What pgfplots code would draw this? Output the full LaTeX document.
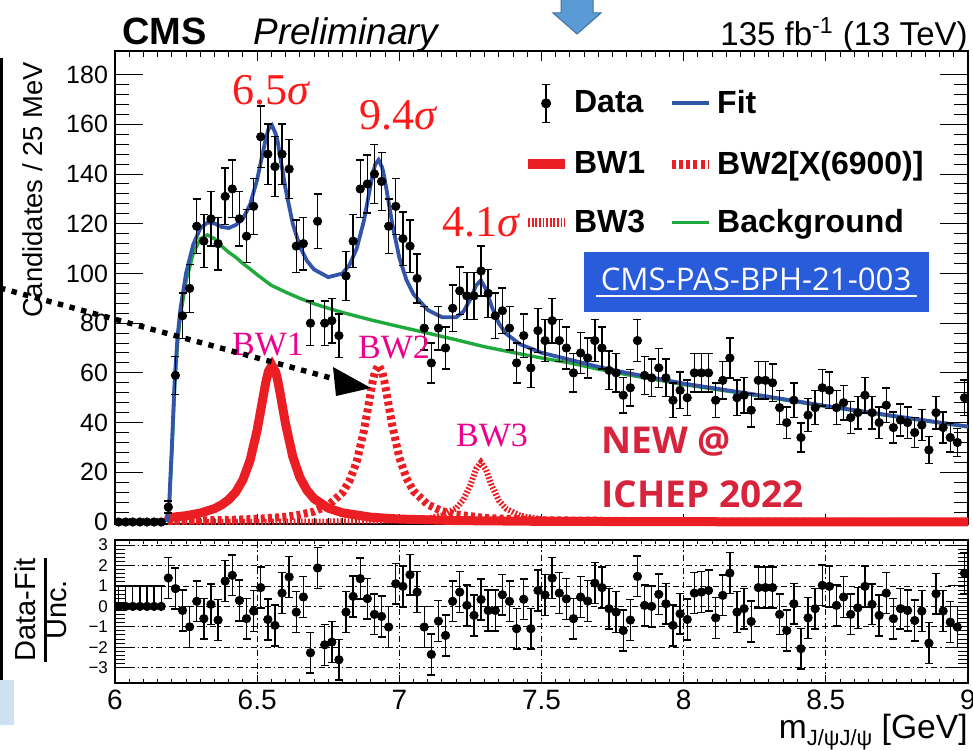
\documentclass[border=0pt]{standalone}
\usepackage{pgfplots}
\pgfplotsset{compat=1.18}
\usepackage{pgfplotstable}
\usepackage{fontspec}
\setmainfont{Liberation Sans}
\newfontfamily\tnr{Liberation Serif}
\newfontfamily\osans{Open Sans}
\definecolor{fitblue}{RGB}{50,85,170}
\definecolor{bggreen}{RGB}{30,170,60}
\definecolor{bwred}{RGB}{235,30,35}
\definecolor{sigred}{RGB}{255,25,25}
\definecolor{boxblue}{RGB}{40,92,218}
\definecolor{newred}{RGB}{215,35,60}
\definecolor{arrowblue}{RGB}{91,155,213}
\definecolor{arrowedge}{RGB}{65,113,156}

\pgfplotsset{
  lineleg/.style={legend image code/.code={\draw[##1] (0pt,0pt)--(18.5pt,0pt);}},
  dataleg/.style={legend image code/.code={
      \draw[black,line width=0.8pt] (9pt,-9.5pt)--(9pt,9.5pt);
      \draw[black,line width=0.8pt] (7pt,-9.5pt)--(11pt,-9.5pt) (7pt,9.5pt)--(11pt,9.5pt);
      \fill[black] (9pt,0pt) circle (2.3pt);}},
}

% data: bin centre, candidates, uncertainty
\pgfplotstableread{
x y e
6.0125 0 0
6.0375 0 0
6.0625 0 0
6.0875 0 0
6.1125 0 0
6.1375 0 0
6.1625 0 0
6.1875 6 2.4
6.2125 59 7.7
6.2375 83 9.1
6.2625 94 9.7
6.2875 119 10.9
6.3125 113 10.6
6.3375 122 11.0
6.3625 112 10.6
6.3875 131 11.4
6.4125 134 11.6
6.4375 122 11.0
6.4625 115 10.7
6.4875 127 11.3
6.5125 155 12.4
6.5375 148 12.2
6.5625 143 12.0
6.5875 148 12.2
6.6125 142 11.9
6.6375 111 10.5
6.6625 112 10.6
6.6875 80 8.9
6.7125 121 11.0
6.7375 80 8.9
6.7625 81 9.0
6.7875 75 8.7
6.8125 99 9.9
6.8375 113 10.6
6.8625 134 11.6
6.8875 136 11.7
6.9125 140 11.8
6.9375 137 11.7
6.9625 119 10.9
6.9875 127 11.3
7.0125 114 10.7
7.0375 111 10.5
7.0625 98 9.9
7.0875 78 8.8
7.1125 64 8.0
7.1375 78 8.8
7.1625 70 8.4
7.1875 86 9.3
7.2125 93 9.6
7.2375 91 9.5
7.2625 91 9.5
7.2875 101 10.0
7.3125 92 9.6
7.3375 83 9.1
7.3625 85 9.2
7.3875 78 8.8
7.4125 64 8.0
7.4375 75 8.7
7.4625 62 7.9
7.4875 77 8.8
7.5125 73 8.5
7.5375 81 9.0
7.5625 73 8.5
7.5875 70 8.4
7.6125 60 7.7
7.6375 68 8.2
7.6625 66 8.1
7.6875 73 8.5
7.7125 70 8.4
7.7375 61 7.8
7.7625 60 7.7
7.7875 51 7.1
7.8125 54 7.3
7.8375 73 8.5
7.8625 59 7.7
7.8875 58 7.6
7.9125 62 7.9
7.9375 58 7.6
7.9625 49 7.0
7.9875 53 7.3
8.0125 50 7.1
8.0375 60 7.7
8.0625 60 7.7
8.0875 60 7.7
8.1125 49 7.0
8.1375 57 7.5
8.1625 66 8.1
8.1875 50 7.1
8.2125 51 7.1
8.2375 45 6.7
8.2625 57 7.5
8.2875 57 7.5
8.3125 56 7.5
8.3375 46 6.8
8.3625 40 6.3
8.3875 49 7.0
8.4125 34 5.8
8.4375 43 6.6
8.4625 46 6.8
8.4875 54 7.3
8.5125 53 7.3
8.5375 46 6.8
8.5625 48 6.9
8.5875 42 6.5
8.6125 44 6.6
8.6375 51 7.1
8.6625 44 6.6
8.6875 40 6.3
8.7125 47 6.9
8.7375 38 6.2
8.7625 41 6.4
8.7875 40 6.3
8.8125 36 6.0
8.8375 39 6.2
8.8625 29 5.4
8.8875 44 6.6
8.9125 38 6.2
8.9375 34 5.8
8.9625 32 5.7
8.9875 50 7.1
}\datatab

% pulls: bin centre, pull, +err, -err
\pgfplotstableread{
x p ep em
6.0125 0 1 0
6.0375 0 1 0
6.0625 0 1 0
6.0875 0 1 0
6.1125 0 1 0
6.1375 0 1 0
6.1625 0 1 0
6.1875 1.39 1 1
6.2125 0.87 1 1
6.2375 -0.2 1 1
6.2625 -1.0 1 1
6.2875 0.25 1 1
6.3125 -0.6 1 1
6.3375 0.1 1 1
6.3625 -0.67 1 1
6.3875 1.24 1 1
6.4125 1.52 1 1
6.4375 0.29 1 1
6.4625 -0.6 1 1
6.4875 -0.23 1 1
6.5125 0.92 1 1
6.5375 -0.64 1 1
6.5625 -0.93 1 1
6.5875 0.65 1 1
6.6125 1.44 1 1
6.6375 -0.28 1 1
6.6625 0.46 1 1
6.6875 -2.27 1 1
6.7125 1.88 1 1
6.7375 -1.88 1 1
6.7625 -1.75 1 1
6.7875 -2.61 1 1
6.8125 -0.28 1 1
6.8375 0.49 1 1
6.8625 1.36 1 1
6.8875 0.38 1 1
6.9125 -0.39 1 1
6.9375 -0.49 1 1
6.9625 -1.01 1 1
6.9875 1.11 1 1
7.0125 0.98 1 1
7.0375 1.55 1 1
7.0625 0.70 1 1
7.0875 -1.01 1 1
7.1125 -2.35 1 1
7.1375 -0.72 1 1
7.1625 -1.42 1 1
7.1875 0.25 1 1
7.2125 0.70 1 1
7.2375 0.05 1 1
7.2625 -0.44 1 1
7.2875 0.34 1 1
7.3125 -0.2 1 1
7.3375 -0.2 1 1
7.3625 0.57 1 1
7.3875 0.25 1 1
7.4125 -1.09 1 1
7.4375 0.35 1 1
7.4625 -1.09 1 1
7.4875 0.78 1 1
7.5125 0.56 1 1
7.5375 1.39 1 1
7.5625 0.65 1 1
7.5875 0.37 1 1
7.6125 -0.6 1 1
7.6375 0.46 1 1
7.6625 0.26 1 1
7.6875 1.14 1 1
7.7125 0.92 1 1
7.7375 -0.11 1 1
7.7625 -0.28 1 1
7.7875 -1.18 1 1
7.8125 -0.67 1 1
7.8375 1.47 1 1
7.8625 0.05 1 1
7.8875 0.0 1 1
7.9125 0.59 1 1
7.9375 0.13 1 1
7.9625 -0.93 1 1
7.9875 -0.36 1 1
8.0125 -0.64 1 1
8.0375 0.65 1 1
8.0625 0.70 1 1
8.0875 0.78 1 1
8.1125 -0.56 1 1
8.1375 0.54 1 1
8.1625 1.63 1 1
8.1875 -0.28 1 1
8.2125 -0.11 1 1
8.2375 -0.74 1 1
8.2625 0.92 1 1
8.2875 0.92 1 1
8.3125 0.92 1 1
8.3375 -0.39 1 1
8.3625 -1.18 1 1
8.3875 0.13 1 1
8.4125 -2.07 1 1
8.4375 -0.56 1 1
8.4625 -0.11 1 1
8.4875 1.03 1 1
8.5125 0.98 1 1
8.5375 0.05 1 1
8.5625 0.46 1 1
8.5875 -0.39 1 1
8.6125 -0.07 1 1
8.6375 0.98 1 1
8.6625 0.1 1 1
8.6875 -0.44 1 1
8.7125 0.65 1 1
8.7375 -0.6 1 1
8.7625 -0.11 1 1
8.7875 -0.2 1 1
8.8125 -0.69 1 1
8.8375 -0.23 1 1
8.8625 -1.8 1 1
8.8875 0.62 1 1
8.9125 -0.23 1 1
8.9375 -0.77 1 1
8.9625 -1.01 1 1
8.9875 1.63 1 1
}\pulltab

\pgfplotstableread{
x y
6.185 0
6.19 1.8
6.2 1.9
6.25 2.55
6.3 3.6
6.35 5.4
6.375 6.9
6.4 9.0
6.425 12.1
6.45 17.0
6.475 24.8
6.5 37.0
6.515 46.5
6.525 52.9
6.532 57.1
6.54 60.7
6.552 63
6.565 60.3
6.572 57.1
6.58 52.3
6.59 45.8
6.6 39.4
6.625 26.4
6.65 18.0
6.675 12.8
6.7 9.4
6.75 5.6
6.8 3.7
6.9 1.94
7.0 1.19
7.2 0.57
7.5 0.27
8.0 0.12
8.5 0.06
9.0 0.04
}\bwone

\pgfplotstableread{
x y
6.185 0
6.19 0.43
6.4 0.83
6.5 1.26
6.6 2.1
6.65 2.9
6.7 4.2
6.75 6.7
6.8 11.8
6.825 16.6
6.85 24.3
6.875 36.5
6.89 46.0
6.9 52.7
6.907 56.9
6.915 60.7
6.927 63
6.94 60.3
6.947 56.9
6.955 52.0
6.964 46.0
6.975 38.9
7.0 25.9
7.025 17.6
7.05 12.4
7.1 7.0
7.15 4.4
7.2 3.0
7.3 1.64
7.5 0.71
8.0 0.2
8.5 0.095
9.0 0.055
}\bwtwo

\pgfplotstableread{
x y
6.185 0
6.19 0.05
6.5 0.09
6.8 0.23
7.0 0.64
7.1 1.45
7.15 2.6
7.2 5.5
7.225 8.9
7.25 14.9
7.27 21.3
7.287 24
7.305 21.0
7.325 14.6
7.35 8.7
7.375 5.4
7.425 2.5
7.5 1.14
7.6 0.54
7.8 0.2
8.0 0.11
8.5 0.04
9.0 0.02
}\bwthree

\pgfplotstableread{
x y
6.185 0
6.19 4
6.2 28
6.21 55
6.22 72
6.23 83
6.25 97
6.275 108
6.3 114
6.325 115.5
6.35 114
6.375 111
6.4 108.5
6.425 106.5
6.45 104
6.475 101.8
6.5 99.5
6.55 95.2
6.6 92.5
6.65 90
6.7 87.8
6.75 86
6.8 84.3
6.9 81.3
7.0 78.6
7.1 76
7.2 73.3
7.3 70.5
7.4 68.2
7.5 66
7.6 64
7.7 61.5
7.8 59.3
8.0 55.3
8.25 51
8.5 46.5
8.75 42.3
9.0 38.3
}\bgtab

\pgfplotstableread{
x y
6.185 0
6.19 6.3
6.2 30.4
6.21 57.5
6.22 74.6
6.23 85.7
6.25 100.1
6.275 111.6
6.3 118.2
6.325 120.5
6.35 120.1
6.375 118.7
6.4 118.3
6.425 119.5
6.45 122.0
6.475 127.7
6.5 137.8
6.515 145.9
6.525 151.3
6.532 155.0
6.54 158.2
6.552 159.6
6.565 156.2
6.572 153.2
6.58 147.5
6.59 140.8
6.6 134.0
6.625 120.1
6.65 110.9
6.675 105.1
6.7 101.6
6.75 98.5
6.8 100.0
6.825 103.5
6.85 110.0
6.875 121.0
6.89 130.1
6.9 136.3
6.907 140.2
6.915 143.8
6.927 145.7
6.94 142.5
6.947 138.9
6.955 133.7
6.964 127.5
6.975 120.1
7.0 106.3
7.025 97.4
7.05 91.6
7.1 85.3
7.15 82.4
7.2 82.4
7.225 84.6
7.25 89.6
7.27 95.2
7.287 97.2
7.305 93.6
7.325 86.6
7.35 79.9
7.375 75.8
7.425 71.5
7.5 68.1
7.6 65.3
7.7 62.4
7.8 60.0
8.0 55.7
8.25 51.3
8.5 46.7
8.75 42.5
9.0 38.4
}\fittab

\begin{document}
\begin{tikzpicture}[x=0.5pt,y=0.5pt]
\useasboundingbox (0,0) rectangle (973,750);

% slide remnants
\fill[black] (0,70) rectangle (2.5,692);
\fill[arrowblue!30] (0,25) rectangle (14,70);

% ---------------- main panel ----------------
\begin{axis}[
  at={(57.5pt,113pt)}, anchor=south west, scale only axis,
  width=426.5pt, height=236.5pt,
  xmin=6, xmax=9, ymin=-0.8, ymax=189.5,
  xtick={6,6.5,7,7.5,8,8.5,9}, xticklabels={}, minor x tick num=9,
  ytick={0,20,40,60,80,100,120,140,160,180}, minor y tick num=4,
  tick align=inside,
  xtick style={/pgfplots/major tick length=5pt,/pgfplots/minor tick length=3pt,black,line width=0.5pt},
  ytick style={/pgfplots/major tick length=14pt,/pgfplots/minor tick length=7pt,black,line width=0.5pt},
  axis line style={black,line width=0.6pt},
  tick label style={font=\fontsize{12.5}{13}\selectfont},
  /pgf/number format/assume math mode=true,
  clip=false,
  legend columns=2, legend cell align=left,
  legend style={at={(0.478,0.932)}, anchor=north west, draw=none, fill=none,
    inner sep=0pt, font=\fontsize{16}{19}\selectfont\bfseries, row sep=12pt,
    /tikz/every even column/.append style={column sep=9pt}},
]
\addlegendimage{dataleg}
\addlegendentry{Data}
\addlegendimage{lineleg, fitblue, line width=1.9pt}
\addlegendentry{Fit}
\addlegendimage{lineleg, bwred, line width=5pt}
\addlegendentry{BW1}
\addlegendimage{lineleg, bwred, line width=4.5pt, dash pattern=on 2pt off 1.6pt}
\addlegendentry{BW2[X(6900)]}
\addlegendimage{lineleg, bwred, line width=4.5pt, dash pattern=on 0.9pt off 0.9pt}
\addlegendentry{BW3}
\addlegendimage{lineleg, bggreen, line width=1.7pt}
\addlegendentry{Background}

\addplot[bwred, line width=4.5pt, forget plot] table[x=x,y=y] {\bwone};
\addplot[bwred, line width=4pt, dash pattern=on 2pt off 1.6pt, forget plot] table[x=x,y=y] {\bwtwo};
\addplot[bwred, line width=3pt, dash pattern=on 0.9pt off 0.9pt, forget plot] table[x=x,y=y] {\bwthree};
\addplot[bggreen, line width=1.7pt, forget plot] table[x=x,y=y] {\bgtab};
\addplot[fitblue, line width=1.9pt, forget plot] table[x=x,y=y] {\fittab};
\addplot[only marks, mark=*, mark size=2.1pt, black, forget plot,
  error bars/.cd, y dir=both, y explicit,
  error bar style={black,line width=0.7pt},
  error mark options={rotate=90,mark size=2pt,line width=0.7pt}]
  table[x=x,y=y,y error=e] {\datatab};
\end{axis}

% ---------------- pull panel ----------------
\begin{axis}[
  at={(57.5pt,33.5pt)}, anchor=south west, scale only axis,
  width=426.5pt, height=71.5pt,
  xmin=6, xmax=9, ymin=-3.75, ymax=3.25,
  xtick={6,6.5,7,7.5,8,8.5,9}, xticklabels={6,6.5,7,7.5,8,8.5,9}, minor x tick num=9,
  ytick={-3,-2,-1,0,1,2,3}, yticklabels={−3,−2,−1,0,1,2,3}, minor y tick num=4,
  tick align=inside,
  xtick style={/pgfplots/major tick length=4pt,/pgfplots/minor tick length=2pt,black,line width=0.5pt},
  ytick style={/pgfplots/major tick length=10pt,/pgfplots/minor tick length=5pt,black,line width=0.5pt},
  axis line style={black,line width=0.6pt},
  grid=major, major grid style={black,line width=0.4pt,dash pattern=on 3pt off 1.5pt on 0.8pt off 1.5pt},
  xticklabel style={font=\fontsize{14}{14}\selectfont},
  yticklabel style={font=\fontsize{8.5}{9}\selectfont},
  /pgf/number format/assume math mode=true,
  clip=false,
]
\addplot[only marks, mark=*, mark size=2.1pt, black,
  error bars/.cd, y dir=both, y explicit,
  error bar style={black,line width=0.7pt},
  error mark options={rotate=90,mark size=2pt,line width=0.7pt}]
  table[x=x,y=p,y error plus=ep,y error minus=em] {\pulltab};
\end{axis}

% ---------------- texts ----------------
\node[anchor=base west, inner sep=0pt, font=\fontsize{19}{19}\selectfont\bfseries] at (122,705) {CMS};
\node[anchor=base west, inner sep=0pt, font=\fontsize{18.5}{18.5}\selectfont\itshape] at (253,705) {Preliminary};
\node[anchor=base east, inner sep=0pt, font=\fontsize{16.5}{16.5}\selectfont] at (968,704) {135 fb\textsuperscript{-1} (13 TeV)};

\node[rotate=90, inner sep=0pt, font=\fontsize{13.7}{14}\selectfont] at (33,560) {Candidates / 25 MeV};
\node[rotate=90, inner sep=0pt, font=\fontsize{14.5}{15}\selectfont] at (45,140)
  {\setlength\arrayrulewidth{1.4pt}\renewcommand\arraystretch{0.95}\begin{tabular}{@{}c@{}}Data-Fit\\\hline Unc.\end{tabular}};
\node[anchor=base east, inner sep=0pt, font=\fontsize{16.8}{17}\selectfont] at (968,12)
  {m\raisebox{-0.22em}{\fontsize{11}{11}\selectfont J/ψJ/ψ} [GeV]};

% significances and BW labels
\node[text=sigred, font=\tnr\fontsize{22}{22}\selectfont] at (272,660) {6.5\textit{σ}};
\node[text=sigred, font=\tnr\fontsize{22}{22}\selectfont] at (399,635) {9.4\textit{σ}};
\node[text=sigred, font=\tnr\fontsize{22}{22}\selectfont] at (482,528) {4.1\textit{σ}};
\node[text=magenta, font=\tnr\fontsize{17}{17}\selectfont] at (268,405) {BW1};
\node[text=magenta, font=\tnr\fontsize{17}{17}\selectfont] at (394,402) {BW2};
\node[text=magenta, font=\tnr\fontsize{17}{17}\selectfont] at (492,314) {BW3};

% note box
\fill[boxblue] (584,438) rectangle (929,498);
\node[anchor=base, inner sep=0pt, text=white, font=\osans\fontsize{15.6}{16}\selectfont] at (756,459) {CMS-PAS-BPH-21-003};
\draw[white, line width=0.9pt] (596,454) -- (917,454);

\node[anchor=base west, inner sep=0pt, text=newred, font=\osans\bfseries\fontsize{18.5}{19}\selectfont] at (601,297) {NEW @};
\node[anchor=base west, inner sep=0pt, text=newred, font=\osans\bfseries\fontsize{18.5}{19}\selectfont] at (601,243) {ICHEP 2022};

% dotted arrow
\draw[black, line width=2.7pt, dash pattern=on 2.7pt off 3.3pt] (0,462) -- (342,369);
\fill[black] (371,362) -- (333,383) -- (336,354) -- cycle;

% blue arrow at top
\filldraw[fill=arrowblue, draw=arrowedge, line width=0.5pt] (561,751) -- (561,737) -- (553,737) -- (577,716) -- (601,737) -- (593,737) -- (593,751);
\end{tikzpicture}
\end{document}
